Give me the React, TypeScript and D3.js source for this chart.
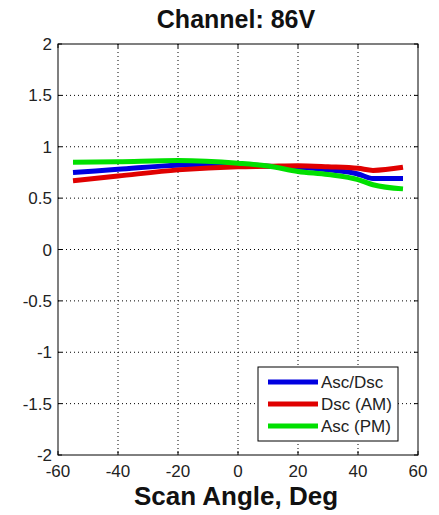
import React from "react";
import * as d3 from "d3";

const angles = [-55, -40, -20, 0, 10, 20, 30, 40, 45, 55];
const ascDsc = [0.75, 0.78, 0.82, 0.83, 0.81, 0.8, 0.775, 0.735, 0.69, 0.69];
const dscAM = [0.67, 0.715, 0.775, 0.806, 0.81, 0.815, 0.805, 0.79, 0.77, 0.8];
const ascPM = [0.85, 0.855, 0.865, 0.84, 0.813, 0.76, 0.73, 0.68, 0.63, 0.59];
const seriesNames = ["Asc/Dsc", "Dsc (AM)", "Asc (PM)"];
const seriesColors = ["#0000e0", "#e00000", "#00e000"];
const xTicks = [-60, -40, -20, 0, 20, 40, 60];
const yTicks = [-2, -1.5, -1, -0.5, 0, 0.5, 1, 1.5, 2];

export default function App() {
  const W = 439, H = 515;
  const L = 58, R = 418, T = 44, B = 455;
  const x = d3.scaleLinear().domain([-60, 60]).range([L, R]);
  const y = d3.scaleLinear().domain([-2, 2]).range([B, T]);
  const line = d3.line<[number, number]>().x(d => x(d[0])).y(d => y(d[1])).curve(d3.curveMonotoneX);
  const series = [ascDsc, dscAM, ascPM];
  const font = "Liberation Sans, Arial, sans-serif";
  const drawOrder = [0, 1, 2];
  return (
    <svg width={W} height={H} style={{ position: "absolute", left: 0, top: 0, background: "#fff" }}>
      <rect x={0} y={0} width={W} height={H} fill="#fff" />
      {xTicks.slice(1, -1).map(t => (
        <line key={"gx" + t} x1={x(t)} x2={x(t)} y1={T} y2={B} stroke="#000" strokeWidth={1} strokeDasharray="1,3" />
      ))}
      {yTicks.slice(1, -1).map(t => (
        <line key={"gy" + t} x1={L} x2={R} y1={y(t)} y2={y(t)} stroke="#000" strokeWidth={1} strokeDasharray="1,3" />
      ))}
      {xTicks.map(t => (
        <g key={"tx" + t}>
          <line x1={x(t)} x2={x(t)} y1={B} y2={B - 4} stroke="#000" />
          <line x1={x(t)} x2={x(t)} y1={T} y2={T + 4} stroke="#000" />
          <text x={x(t)} y={477} textAnchor="middle" fontFamily={font} fontSize={17} fill="#222">{t}</text>
        </g>
      ))}
      {yTicks.map(t => (
        <g key={"ty" + t}>
          <line x1={L} x2={L + 4} y1={y(t)} y2={y(t)} stroke="#000" />
          <line x1={R} x2={R - 4} y1={y(t)} y2={y(t)} stroke="#000" />
          <text x={52} y={y(t) + 6} textAnchor="end" fontFamily={font} fontSize={17} fill="#222">{t}</text>
        </g>
      ))}
      {drawOrder.map(i => (
        <path key={"s" + i} d={line(angles.map((a, j) => [a, series[i][j]] as [number, number])) || ""}
          fill="none" stroke={seriesColors[i]} strokeWidth={5} strokeLinejoin="round" />
      ))}
      <rect x={L} y={T} width={R - L} height={B - T} fill="none" stroke="#000" strokeWidth={1} />
      <g>
        <rect x={258} y={367} width={140} height={74} fill="#fff" stroke="#000" strokeWidth={1} />
        {seriesNames.map((n, i) => (
          <g key={n}>
            <line x1={268} x2={318} y1={382 + i * 22} y2={382 + i * 22} stroke={seriesColors[i]} strokeWidth={5} />
            <text x={321} y={388 + i * 22} fontFamily={font} fontSize={17} fill="#222">{n}</text>
          </g>
        ))}
      </g>
      <text x={236} y={28} textAnchor="middle" fontFamily={font} fontSize={25} fontWeight="bold" fill="#111">Channel: 86V</text>
      <text x={236} y={505} textAnchor="middle" fontFamily={font} fontSize={26} fontWeight="bold" fill="#111">Scan Angle, Deg</text>
    </svg>
  );
}
